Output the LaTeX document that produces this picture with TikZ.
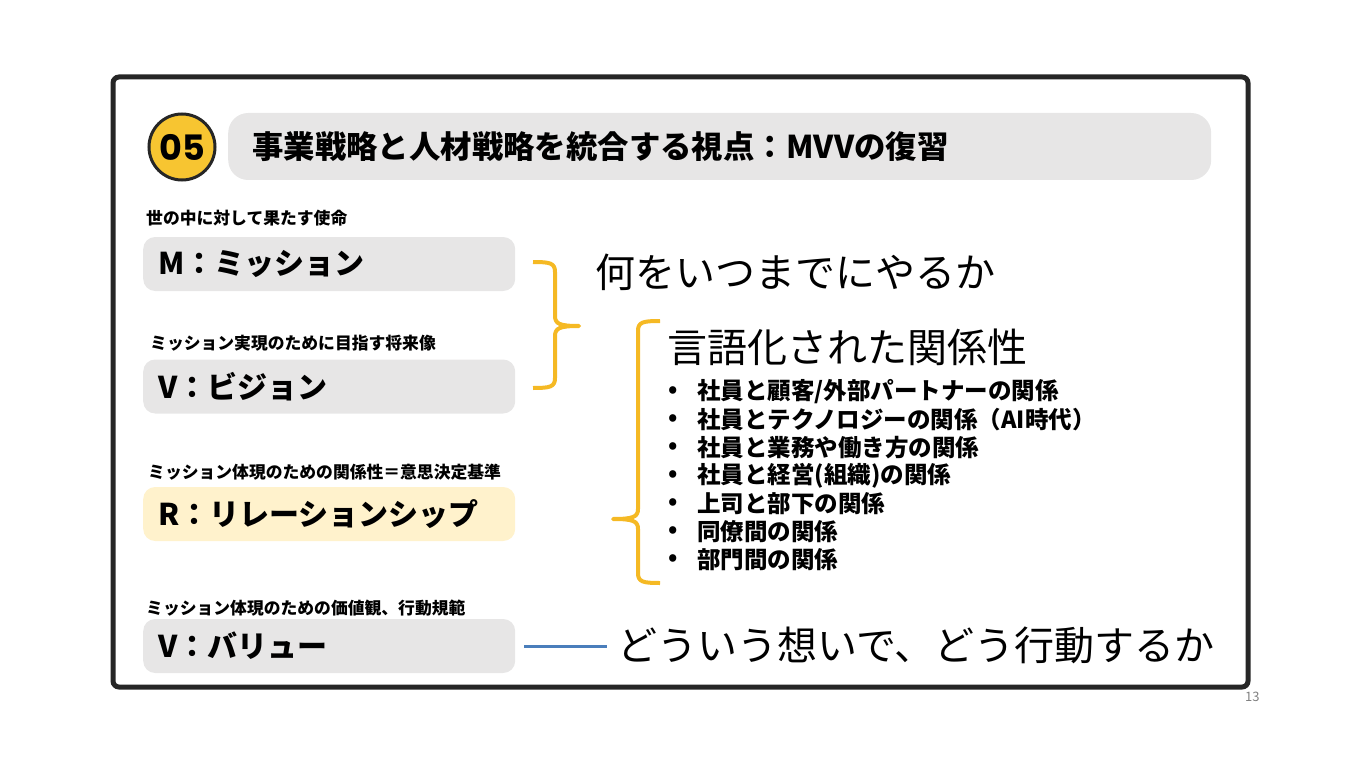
\documentclass[tikz,border=0pt]{standalone}
\usepackage{fontspec}
\setmainfont{Noto Sans CJK JP}
\newfontfamily\numfont{Poppins}
\definecolor{framegray}{HTML}{262626}
\definecolor{panelgray}{HTML}{E7E6E6}
\definecolor{panelyellow}{HTML}{FFF2CC}
\definecolor{badgeyellow}{HTML}{F7C531}
\definecolor{braceyellow}{HTML}{F5B924}
\definecolor{lineblue}{HTML}{4A7EBB}
\tikzset{
  mvvbox/.style={anchor=west, fill=panelgray, rounded corners=12pt,
    minimum width=372pt, minimum height=54pt, inner xsep=15pt,
    text width=342pt, align=left, font=\bfseries\fontsize{30}{36}\selectfont},
  caption/.style={anchor=west, inner sep=0pt, font=\bfseries\fontsize{16.8}{20}\selectfont},
  bigtext/.style={anchor=west, inner sep=0pt, font=\fontsize{40}{48}\selectfont},
  bullettext/.style={anchor=west, inner sep=0pt, font=\bfseries\fontsize{23.5}{28}\selectfont},
  bracket/.style={draw=braceyellow, line width=4pt, line join=round}
}
\begin{document}
\begin{tikzpicture}[x=1pt,y=-1pt]
\useasboundingbox (0,0) rectangle (1361,765);
\draw [line width=5pt, draw=framegray, rounded corners=6pt] (113,77) rectangle (1248,687);

% header
\node [circle, fill=badgeyellow, draw=framegray, line width=3pt, minimum size=66pt, inner sep=0pt,
  font=\numfont\bfseries\fontsize{35}{35}\selectfont] (badge) at (182,147) {05};
\node [anchor=west, fill=panelgray, rounded corners=20pt, minimum width=983pt, minimum height=67pt,
  inner xsep=24pt, text width=935pt, align=left, font=\bfseries\fontsize{31.4}{36}\selectfont]
  (title) at (228,146.5) {事業戦略と人材戦略を統合する視点：MVVの復習};

% left column
\node [caption] (mcap) at (146,218) {世の中に対して果たす使命};
\node [mvvbox] (mission) at (143,264) {M：ミッション};
\node [caption] (vcap) at (150,343) {ミッション実現のために目指す将来像};
\node [mvvbox] (vision) at (143,386.5) {V：ビジョン};
\node [caption] (rcap) at (148,472) {ミッション体現のための関係性＝意思決定基準};
\node [mvvbox, fill=panelyellow] (relation) at (143,514) {R：リレーションシップ};
\node [caption] (valcap) at (146,608) {ミッション体現のための価値観、行動規範};
\node [mvvbox] (value) at (143,646) {V：バリュー};

% right column
\node [bigtext] (whattxt) at (595,272) {何をいつまでにやるか};
\node [bigtext] (reltxt) at (667,347) {言語化された関係性};
\foreach \txt [count=\i] in {社員と顧客/外部パートナーの関係, 社員とテクノロジーの関係（AI時代）,
    社員と業務や働き方の関係, 社員と経営(組織)の関係, 上司と部下の関係, 同僚間の関係, 部門間の関係} {
  \node [bullettext] (dot\i) at (668,{392+28*(\i-1)}) {•};
  \node [bullettext] (item\i) at (697,{392+28*(\i-1)}) {\txt};
}
\node [bigtext] (howtxt) at (617,645) {どういう想いで、どう行動するか};

% brackets
\draw [bracket] (533,262) .. controls (550,262) and (555,263) .. (555,272) -- (555,316)
  .. controls (555,324) and (560,326) .. (579,326) .. controls (560,326) and (555,328) .. (555,336)
  -- (555,378) .. controls (555,387) and (550,388) .. (533,388);
\draw [bracket] (660,321) .. controls (643,321) and (638,322) .. (638,331) -- (638,509)
  .. controls (638,517) and (633,519) .. (613,519) .. controls (633,519) and (638,521) .. (638,529)
  -- (638,573) .. controls (638,582) and (643,583) .. (660,583);
\draw [lineblue, line width=3pt, shorten <=9pt, shorten >=10pt] (value.east) -- (value.east -| howtxt.west);

\node [anchor=west, inner sep=0pt, text=gray, font=\fontsize{13}{15}\selectfont] (pagenum) at (1245,697) {13};
\end{tikzpicture}
\end{document}
